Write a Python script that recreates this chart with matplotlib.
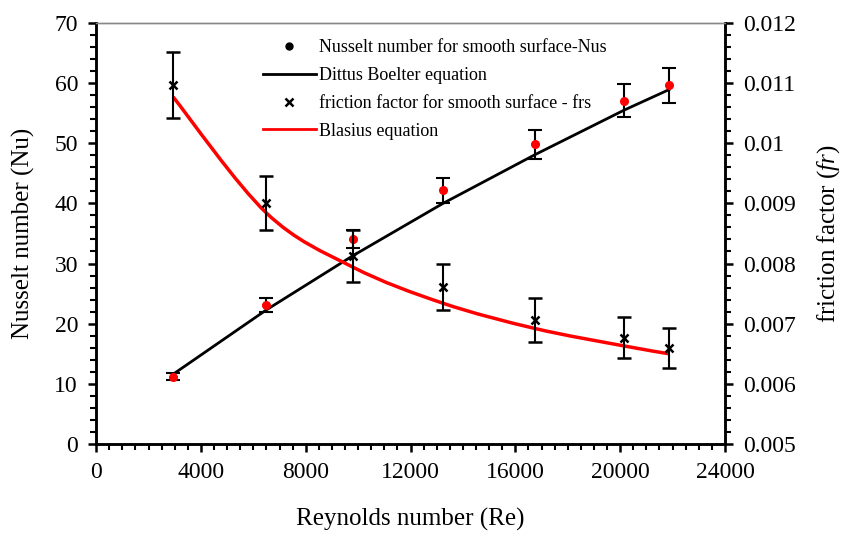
import matplotlib
matplotlib.use("Agg")
import matplotlib.pyplot as plt
from matplotlib.lines import Line2D
from matplotlib.path import Path
from matplotlib.patches import PathPatch
from matplotlib.ticker import MultipleLocator
import numpy as np

plt.rcParams['font.family'] = ['Liberation Serif', 'DejaVu Serif']
plt.rcParams['mathtext.fontset'] = 'custom'
plt.rcParams['mathtext.it'] = 'Liberation Serif:italic'
plt.rcParams['mathtext.rm'] = 'Liberation Serif'

# data
reynolds = [2940, 6500, 9800, 13240, 16750, 20150, 21860]
nu_exp = [11.2, 23.1, 34.1, 42.2, 49.8, 57.1, 59.6]
nu_err = [0.6, 1.2, 1.5, 2.1, 2.4, 2.8, 2.95]
nu_dittus = [11.6, 22.3, 31.3, 40.0, 48.1, 55.5, 58.9]
f_exp = [0.01097, 0.00900, 0.00813, 0.00761, 0.00706, 0.00677, 0.00659]
f_err = [0.00055, 0.00045, 0.00043, 0.00038, 0.00036, 0.00034, 0.00033]
f_blasius = [0.01077, 0.00884, 0.00794, 0.00734, 0.00692, 0.00663, 0.00650]


# smooth line through points (Excel style), drawn as bezier path
def smooth_path(x, y):
    pts = np.column_stack([x, y]).astype(float)
    n = len(pts)
    verts = [pts[0]]
    codes = [Path.MOVETO]
    for i in range(n - 1):
        p0 = pts[max(i - 1, 0)]
        p1 = pts[i]
        p2 = pts[i + 1]
        p3 = pts[min(i + 2, n - 1)]
        c1 = p1 + (p2 - p0) / 6.0
        c2 = p2 - (p3 - p1) / 6.0
        verts += [c1, c2, p2]
        codes += [Path.CURVE4] * 3
    return Path(verts, codes)


fig = plt.figure(figsize=(8.43, 5.33), dpi=100)
ax = fig.add_axes([0.114, 0.167, 0.746, 0.790])
ax2 = ax.twinx()

ax.plot(reynolds, nu_dittus, color='black', lw=2, zorder=2)
ax.errorbar(reynolds, nu_exp, yerr=nu_err, fmt='o', color='red', ms=5.5,
            ecolor='black', elinewidth=1.5, capsize=5, capthick=1.5, zorder=3)

ax2.add_patch(PathPatch(smooth_path(reynolds, f_blasius), facecolor='none',
                        edgecolor='red', lw=2.5, zorder=2))
ax2.errorbar(reynolds, f_exp, yerr=f_err, fmt='x', color='black', ms=6, mew=1.8,
             ecolor='black', elinewidth=1.5, capsize=5, capthick=1.5, zorder=3)

ax.set_xlim(0, 24000)
ax.set_ylim(0, 70)
ax2.set_ylim(0.005, 0.012)

ax.xaxis.set_major_locator(MultipleLocator(4000))
ax.xaxis.set_minor_locator(MultipleLocator(500))
ax.yaxis.set_major_locator(MultipleLocator(10))
ax.yaxis.set_minor_locator(MultipleLocator(2))
ax2.set_yticks(np.arange(0.005, 0.0121, 0.001))
ax2.set_yticklabels(['0.005', '0.006', '0.007', '0.008', '0.009', '0.01', '0.011', '0.012'])
ax2.yaxis.set_minor_locator(MultipleLocator(0.0002))

for a in (ax, ax2):
    a.tick_params(which='major', direction='out', length=6, width=1.8, labelsize=17, pad=7)
    a.tick_params(which='minor', direction='out', length=4, width=1.5)
    for s in a.spines.values():
        s.set_linewidth(1.8)
    a.spines['top'].set_color('#888888')
    a.spines['top'].set_linewidth(1.0)

ax.set_xlabel('Reynolds number (Re)', fontsize=18, labelpad=18)
ax.set_ylabel('Nusselt number (Nu)', fontsize=18, labelpad=14)
ax2.set_ylabel('friction factor ($\\mathit{fr}$)', fontsize=18, labelpad=14)

handles = [
    Line2D([], [], marker='o', color='black', ls='none', ms=5),
    Line2D([], [], color='black', lw=2),
    Line2D([], [], marker='x', color='black', ls='none', ms=6, mew=1.8),
    Line2D([], [], color='red', lw=2),
]
labels = ['Nusselt number for smooth surface-Nus', 'Dittus Boelter equation',
          'friction factor for smooth surface - frs', 'Blasius equation']
ax2.legend(handles, labels, loc='upper left', bbox_to_anchor=(0.24, 1.0),
           frameon=False, fontsize=13, handlelength=2.9, handletextpad=0.2,
           labelspacing=0.6)

fig.savefig('out.png', dpi=100)
